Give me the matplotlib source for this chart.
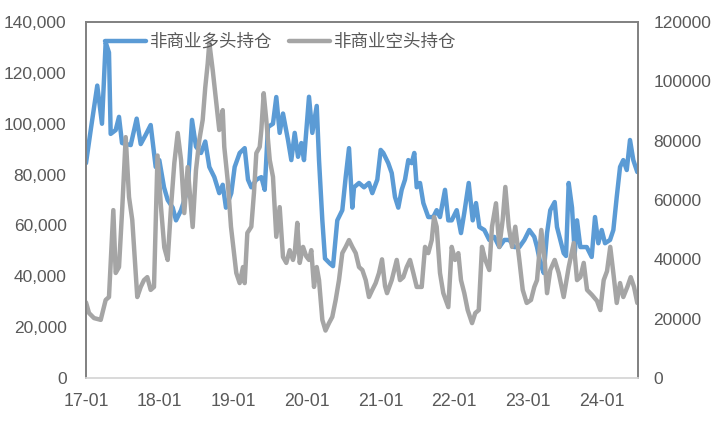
import numpy as np
import pandas as pd
import matplotlib
matplotlib.use('Agg')
import matplotlib.pyplot as plt
import matplotlib.dates as mdates
import matplotlib.ticker as mticker

plt.rcParams['font.family'] = ['Liberation Sans', 'Noto Sans CJK SC']

# 非商业多头持仓 (left axis), time as decimal years
long_t = [2017.000, 2017.064, 2017.153, 2017.217, 2017.267, 2017.312, 2017.335, 2017.403,
          2017.448, 2017.489, 2017.607, 2017.688, 2017.743, 2017.810, 2017.878, 2017.946,
          2017.995, 2018.059, 2018.109, 2018.177, 2018.222, 2018.290, 2018.380, 2018.439,
          2018.493, 2018.561, 2018.619, 2018.674, 2018.742, 2018.809, 2018.856, 2018.900,
          2018.972, 2019.018, 2019.086, 2019.154, 2019.199, 2019.244, 2019.312, 2019.380,
          2019.426, 2019.470, 2019.538, 2019.583, 2019.629, 2019.674, 2019.742, 2019.787,
          2019.833, 2019.878, 2019.923, 2019.959, 2020.027, 2020.072, 2020.132, 2020.163,
          2020.208, 2020.244, 2020.312, 2020.353, 2020.411, 2020.479, 2020.525, 2020.570,
          2020.615, 2020.638, 2020.706, 2020.774, 2020.841, 2020.886, 2020.954, 2021.000,
          2021.036, 2021.103, 2021.150, 2021.194, 2021.239, 2021.285, 2021.330, 2021.375,
          2021.421, 2021.456, 2021.489, 2021.534, 2021.579, 2021.646, 2021.714, 2021.760,
          2021.805, 2021.873, 2021.918, 2021.964, 2022.032, 2022.090, 2022.135, 2022.195,
          2022.249, 2022.294, 2022.339, 2022.407, 2022.474, 2022.542, 2022.610, 2022.678,
          2022.746, 2022.814, 2022.882, 2022.950, 2023.017, 2023.085, 2023.122, 2023.167,
          2023.213, 2023.258, 2023.302, 2023.362, 2023.393, 2023.438, 2023.484, 2023.516,
          2023.552, 2023.597, 2023.634, 2023.665, 2023.710, 2023.797, 2023.864, 2023.909,
          2023.954, 2024.000, 2024.045, 2024.113, 2024.158, 2024.204, 2024.249, 2024.293,
          2024.340, 2024.384, 2024.429, 2024.483]
long_k = [84.5, 97.5, 115, 100, 132, 128, 96, 97.5,
          102.7, 92.4, 91.6, 102, 92, 95.6, 99.5, 83,
          85.7, 75, 70, 67, 62, 66, 74, 101.5,
          91, 88.5, 93, 83, 79, 72.7, 76, 67,
          72.7, 83, 88.5, 90.4, 78, 75, 78, 79,
          74, 98.7, 100, 110.5, 96.4, 104, 93.6, 85.7,
          96.4, 87, 92.4, 85.7, 110.6, 96.4, 107, 85.7,
          62, 47, 45, 44, 62, 66, 79, 90.4,
          67, 75, 76.7, 75, 76.7, 72.7, 78, 89.7,
          88.5, 84.5, 80.6, 71.2, 67, 74, 78, 85.7,
          84.5, 88.5, 75, 76.7, 68.8, 63.3, 63.3, 66,
          63.3, 74, 62, 62, 66, 57, 65, 76.7,
          62, 68.8, 59.4, 58.2, 54.3, 55.5, 51.5, 54.3,
          54.3, 51.5, 51.5, 54.3, 58.2, 55.5, 51.5, 45.2,
          41.3, 57, 66, 69.2, 59.4, 54.3, 49.1, 48,
          76.7, 67, 49, 62, 51.5, 51.5, 47.6, 63.3,
          53, 58.2, 53, 54.3, 58.2, 71.2, 83, 85.7,
          81.8, 93.6, 85.7, 81]

# 非商业空头持仓 (right axis)
short_t = [2017.000, 2017.041, 2017.109, 2017.200, 2017.267, 2017.312, 2017.371, 2017.403,
           2017.448, 2017.493, 2017.539, 2017.584, 2017.628, 2017.696, 2017.743, 2017.787,
           2017.832, 2017.878, 2017.923, 2017.971, 2018.018, 2018.063, 2018.109, 2018.154,
           2018.199, 2018.245, 2018.290, 2018.334, 2018.380, 2018.448, 2018.493, 2018.538,
           2018.584, 2018.619, 2018.652, 2018.674, 2018.720, 2018.765, 2018.809, 2018.856,
           2018.877, 2018.923, 2018.968, 2019.040, 2019.086, 2019.131, 2019.154, 2019.190,
           2019.244, 2019.280, 2019.312, 2019.358, 2019.380, 2019.412, 2019.447, 2019.494,
           2019.538, 2019.583, 2019.629, 2019.674, 2019.719, 2019.765, 2019.810, 2019.833,
           2019.868, 2019.901, 2019.946, 2019.990, 2020.027, 2020.058, 2020.095, 2020.132,
           2020.163, 2020.208, 2020.251, 2020.298, 2020.343, 2020.389, 2020.434, 2020.479,
           2020.525, 2020.570, 2020.615, 2020.661, 2020.706, 2020.751, 2020.797, 2020.841,
           2020.886, 2020.932, 2020.977, 2021.018, 2021.059, 2021.086, 2021.150, 2021.218,
           2021.262, 2021.307, 2021.353, 2021.398, 2021.443, 2021.489, 2021.557, 2021.602,
           2021.646, 2021.693, 2021.724, 2021.760, 2021.805, 2021.850, 2021.918, 2021.964,
           2022.009, 2022.054, 2022.090, 2022.135, 2022.181, 2022.240, 2022.284, 2022.331,
           2022.375, 2022.420, 2022.474, 2022.511, 2022.565, 2022.610, 2022.656, 2022.692,
           2022.738, 2022.783, 2022.827, 2022.882, 2022.928, 2022.982, 2023.040, 2023.085,
           2023.122, 2023.180, 2023.226, 2023.258, 2023.302, 2023.362, 2023.416, 2023.484,
           2023.552, 2023.620, 2023.665, 2023.710, 2023.756, 2023.801, 2023.868, 2023.936,
           2023.981, 2024.027, 2024.072, 2024.116, 2024.158, 2024.204, 2024.249, 2024.293,
           2024.348, 2024.394, 2024.439, 2024.483]
short_k = [25.5, 21.9, 20.2, 19.6, 26.3, 27.3, 56.6, 35.4,
           37.4, 57.6, 81.2, 61, 53.3, 27.3, 30.7, 33,
           34, 29.7, 30.7, 75, 57.6, 44, 39.8, 57.6,
           72.5, 82.6, 73.5, 55.6, 71.1, 50.9, 70.1, 80.2,
           87, 98, 106, 113, 103.8, 93.7, 83.6, 90.3,
           77.9, 66.7, 51, 35.4, 32, 37.4, 32, 48.9,
           51, 62.4, 75.8, 77.9, 83.6, 96, 87, 73.5,
           67.8, 47.6, 57.6, 40.8, 38.8, 43.1, 39.8, 42.1,
           52.3, 38.8, 44.2, 41, 39.8, 43.1, 30.7, 37.4,
           33, 19.6, 16, 18.5, 20.6, 26.3, 33, 42.1,
           44.2, 46.5, 44.2, 42.1, 37.4, 36.4, 33, 27.3,
           29.7, 32, 35.4, 40, 31, 28.6, 33, 39.8,
           33, 34, 37.4, 39.8, 35.4, 30.7, 30.7, 44.2,
           42.1, 46.5, 54.3, 51, 35.4, 28.6, 23.9, 44.2,
           39.8, 42.1, 33, 28.6, 22.9, 18.5, 21.9, 22.9,
           44.2, 39.8, 36.4, 51, 58.9, 44.2, 53.3, 64.4,
           51, 44.2, 51, 39.8, 29.7, 25.3, 26.3, 30.7,
           33, 49.9, 39.8, 28.6, 36.4, 39.8, 35.4, 27.3,
           37.4, 45.5, 33, 34, 38.8, 29.7, 28, 26,
           22.9, 33, 36, 44.2, 35.4, 25.3, 32, 27.3,
           30.7, 34, 30.7, 25.3]

legend_labels = ['非商业多头持仓', '非商业空头持仓']
blue = '#5B9BD5'
grey = '#A5A5A5'
text_col = '#595959'


def to_dates(years):
    start = pd.Timestamp('2017-01-01')
    return start + pd.to_timedelta((np.array(years) - 2017) * 365.25, unit='D')


fig = plt.figure(figsize=(7.16, 4.36), dpi=100)
ax = fig.add_axes([0.1201, 0.1330, 0.7710, 0.8165])
ax2 = ax.twinx()

l1, = ax.plot(to_dates(long_t), np.array(long_k) * 1000, color=blue, lw=3.2,
              solid_joinstyle='round', solid_capstyle='round')
l2, = ax2.plot(to_dates(short_t), np.array(short_k) * 1000, color=grey, lw=3.2,
               solid_joinstyle='round', solid_capstyle='round')

ax.set_ylim(0, 140000)
ax2.set_ylim(0, 120000)
ax.set_yticks(np.arange(0, 140001, 20000))
ax2.set_yticks(np.arange(0, 120001, 20000))
ax.yaxis.set_major_formatter(mticker.FuncFormatter(lambda v, p: f'{int(v):,}'))
ax2.yaxis.set_major_formatter(mticker.FuncFormatter(lambda v, p: f'{int(v)}'))

ax.set_xlim(to_dates([2017.0, 2024.493]))
ax.xaxis.set_major_locator(mdates.YearLocator())
ax.xaxis.set_major_formatter(mdates.DateFormatter('%y-%m'))

ax.tick_params(axis='y', length=0, pad=14, labelsize=12.5, labelcolor=text_col)
ax2.tick_params(axis='y', length=0, pad=11, labelsize=12.5, labelcolor=text_col)
ax.tick_params(axis='x', length=0, pad=11, labelsize=12.8, labelcolor=text_col)

for a in (ax, ax2):
    for s in ('left', 'right', 'top'):
        a.spines[s].set_color('#808080')
        a.spines[s].set_linewidth(1.2)
    a.spines['bottom'].set_color('#d9d9d9')
    a.spines['bottom'].set_linewidth(1.2)

leg = ax2.legend([l1, l2], legend_labels, loc='upper left', bbox_to_anchor=(0.006, 1.012),
                 ncol=2, frameon=False, fontsize=12.6, handlelength=2.35,
                 handletextpad=0.15, columnspacing=1.0, labelcolor=text_col)

fig.savefig('out.png', dpi=100)
